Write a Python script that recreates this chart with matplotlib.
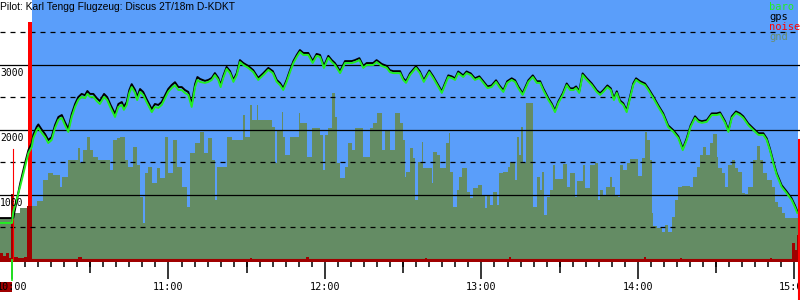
import matplotlib.pyplot as plt

# time in minutes after 10:00, heights in metres
baro_t = [-4.6, 0.0, 0.5, 3.1, 5.0, 6.3, 7.6, 8.2, 9.5, 10.1, 11.4, 12.7, 13.9, 15.2, 16.5, 17.8, 19.1, 20.3,
          21.6, 22.9, 24.2, 25.4, 26.7, 28.0, 28.9, 29.9, 31.2, 32.5, 33.7, 35.3, 36.5, 37.8, 39.5, 40.8,
          42.1, 42.9, 44.0, 45.0, 45.9, 47.2, 48.0, 49.1, 50.3, 51.6, 53.6, 54.8, 56.1, 57.4, 58.7, 59.9,
          61.2, 62.5, 63.8, 65.1, 66.3, 67.6, 68.9, 70.2, 71.1, 72.1, 74.0, 75.3, 76.6, 77.8, 79.1, 80.0,
          81.0, 82.3, 83.6, 84.9, 86.2, 87.4, 88.7, 90.6, 92.5, 94.4, 96.4, 98.3, 100.0, 101.5, 102.8,
          104.0, 105.3, 106.6, 107.9, 109.2, 110.4, 111.7, 113.6, 115.3, 116.8, 118.1, 119.6, 121.3,
          122.6, 123.8, 125.8, 127.7, 129.0, 130.3, 131.5, 133.2, 134.7, 136.0, 137.3, 138.5, 139.8,
          141.8, 143.7, 144.9, 146.2, 148.8, 150.0, 151.1, 152.6, 154.9, 156.4, 157.9, 160.0, 161.5,
          163.1, 164.8, 166.0, 167.3, 168.6, 169.9, 171.1, 173.0, 174.3, 175.9, 177.5, 179.2, 180.7,
          182.3, 183.9, 185.6, 186.9, 188.4, 189.9, 191.6, 192.9, 194.1, 195.8, 198.0, 199.7, 201.2,
          202.5, 203.7, 205.7, 206.9, 208.2, 209.5, 211.2, 212.7, 214.0, 215.3, 216.3, 217.5, 218.8,
          220.4, 222.3, 224.2, 225.5, 226.7, 228.3, 229.6, 230.8, 231.9, 233.1, 234.4, 235.7, 237.0,
          238.2, 239.3, 240.8, 242.7, 244.0, 245.9, 247.8, 249.7, 251.6, 253.6, 255.5, 257.2, 258.7,
          260.2, 261.9, 263.2, 264.5, 266.4, 268.3, 270.2, 271.5, 273.4, 274.7, 276.0, 277.6, 279.1,
          280.4, 282.3, 284.2, 286.2, 288.1, 289.4, 290.6, 291.9, 293.2, 295.1, 297.0, 298.9, 300.2, 301.1]

baro_m = [570, 570, 740, 1125, 1430, 1645, 1740, 1875, 2000, 2030, 1955, 1890, 1800, 1845, 2030, 2155, 2185, 2075,
          1970, 2200, 2355, 2460, 2510, 2490, 2555, 2510, 2510, 2445, 2400, 2510, 2460, 2340, 2200, 2355,
          2385, 2310, 2385, 2570, 2660, 2570, 2460, 2585, 2540, 2430, 2275, 2355, 2340, 2385, 2490, 2585,
          2645, 2690, 2615, 2615, 2570, 2540, 2355, 2660, 2770, 2740, 2725, 2740, 2770, 2845, 2770, 2660,
          2800, 2940, 2875, 2740, 2845, 3045, 3000, 2955, 2890, 2770, 2845, 2925, 2875, 2740, 2690,
          2615, 2740, 2890, 3030, 3125, 3200, 3155, 3155, 3030, 3140, 3125, 2955, 3110,
          3045, 3000, 2875, 3030, 3030, 3030, 3045, 3075, 2955, 3000, 3000, 3000, 3045,
          2985, 2955, 2890, 2875, 2875, 2770, 2725, 2845, 2955, 2875, 2740, 2890, 2800,
          2690, 2570, 2690, 2815, 2800, 2770, 2875, 2815, 2875, 2845, 2770, 2800, 2725,
          2645, 2660, 2740, 2660, 2585, 2725, 2770, 2740, 2645, 2540, 2740, 2815, 2725,
          2725, 2615, 2460, 2385, 2275, 2415, 2540, 2690, 2615, 2615, 2645, 2570, 2845,
          2770, 2690, 2585, 2540, 2585, 2660, 2615, 2460, 2570, 2430, 2385, 2275, 2490,
          2690, 2770, 2725, 2690, 2615, 2490, 2355, 2230, 2045, 1970, 1875, 1690, 1845,
          2045, 2185, 2125, 2110, 2125, 2230, 2230, 2245, 2110, 1970, 2185, 2260, 2230,
          2185, 2075, 2000, 1925, 1925, 1845, 1690, 1490, 1310, 1125, 1030, 925, 815, 725]

gps_m = [645, 645, 650, 1170, 1490, 1690, 1800, 1930, 2050, 2085, 2005, 1935, 1845, 1890, 2075, 2200, 2230, 2120,
         2015, 2245, 2400, 2505, 2555, 2535, 2600, 2555, 2555, 2490, 2445, 2555, 2505, 2385, 2245, 2400,
         2430, 2355, 2430, 2615, 2705, 2615, 2505, 2630, 2585, 2475, 2320, 2400, 2385, 2430, 2535, 2630,
         2690, 2735, 2660, 2660, 2615, 2585, 2400, 2705, 2815, 2785, 2755, 2770, 2800, 2875, 2800, 2690,
         2830, 2970, 2905, 2770, 2875, 3075, 3030, 2985, 2920, 2800, 2875, 2955, 2905, 2770, 2720,
         2645, 2770, 2920, 3060, 3155, 3230, 3185, 3185, 3060, 3170, 3155, 2985, 3140,
         3075, 3030, 2905, 3060, 3060, 3060, 3075, 3105, 2985, 3030, 3030, 3030, 3075,
         3015, 2985, 2920, 2905, 2905, 2795, 2750, 2870, 2980, 2900, 2765, 2915, 2825,
         2715, 2595, 2715, 2840, 2825, 2795, 2900, 2840, 2900, 2870, 2795, 2825, 2750,
         2670, 2685, 2765, 2685, 2610, 2750, 2795, 2765, 2670, 2565, 2765, 2840, 2750,
         2750, 2640, 2485, 2410, 2300, 2440, 2565, 2715, 2640, 2640, 2670, 2595, 2870,
         2795, 2715, 2610, 2565, 2610, 2685, 2640, 2485, 2595, 2455, 2410, 2300, 2515,
         2715, 2795, 2750, 2715, 2640, 2515, 2380, 2255, 2070, 1995, 1900, 1715, 1870,
         2070, 2210, 2150, 2135, 2150, 2255, 2255, 2270, 2135, 1995, 2210, 2285, 2255,
         2210, 2100, 2025, 1950, 1950, 1870, 1715, 1515, 1335, 1150, 1055, 950, 840, 750]

gnd_t = [-4.6, 0.0, 3.1, 6.1, 9.6, 11.9, 13.8, 15.7, 18.4, 19.2, 21.5, 25.3, 26.1, 27.2, 28.8, 29.9, 31.1,
         33.0, 37.6, 38.7, 40.3, 41.4, 43.3, 44.5, 46.4, 47.9, 49.1, 50.2, 51.0, 52.2, 53.7, 55.6, 56.8,
         58.7, 59.8, 61.7, 63.3, 65.2, 67.1, 68.3, 70.2, 72.1, 73.6, 75.2, 76.7, 77.8, 78.6, 82.4, 84.4,
         88.6, 89.3, 91.3, 92.0, 93.9, 94.3, 99.7, 100.8, 101.6, 103.5, 103.9, 104.7, 106.6, 110.1, 110.4,
         113.1, 115.0, 118.1, 119.3, 120.0, 121.2, 122.7, 123.9, 124.6, 125.8, 127.7, 128.8, 130.4, 131.5,
         134.6, 137.3, 138.4, 140.0, 141.9, 143.0, 144.9, 146.9, 148.8, 149.9, 150.7, 151.1, 152.6, 153.8,
         154.5, 155.7, 157.2, 157.6, 161.0, 161.4, 163.0, 164.1, 166.4, 167.6, 167.9, 169.1, 170.6, 171.4,
         172.6, 174.5, 175.6, 176.8, 178.7, 180.2, 181.4, 182.1, 183.3, 184.4, 186.0, 186.7, 188.3, 190.2,
         191.0, 192.9, 193.6, 194.4, 195.2, 195.9, 197.1, 199.8, 201.3, 202.5, 203.2, 204.0, 205.1, 206.3,
         207.4, 208.2, 211.3, 212.8, 214.0, 215.9, 216.6, 218.9, 219.7, 221.6, 223.5, 224.7, 225.5, 226.6,
         227.8, 229.3, 230.1, 231.2, 232.4, 233.1, 234.3, 235.8, 237.0, 240.0, 241.6, 242.7, 243.5, 244.6,
         245.4, 245.8, 247.3, 249.2, 250.4, 251.5, 253.1, 254.2, 255.4, 256.9, 260.0, 261.1, 262.7, 263.8,
         265.0, 266.1, 267.6, 268.8, 270.3, 270.7, 272.2, 273.4, 274.5, 276.1, 277.2, 278.4, 279.9, 281.1,
         282.2, 284.1, 285.7, 286.8, 288.0, 289.5, 291.4, 292.6, 293.7, 295.3, 296.4, 302.2]

gnd_m = [630, 725, 800, 830, 910, 1230, 1340, 1310, 1125, 1275, 1540, 1725, 1490, 1690, 1890, 1690, 1585,
         1540, 1385, 1845, 1875, 1890, 1540, 1430, 1740, 1460, 970, 570, 1340, 1430, 1185, 1415, 1260,
         1890, 1340, 1845, 1430, 1125, 815, 1645, 1800, 1970, 1645, 1875, 1540, 925, 1430, 1890, 1845,
         2230, 1890, 2385, 2155, 2385, 2155, 2045, 1490, 2000, 2275, 1890, 1615, 1890, 2260, 2110,
         1585, 2030, 1925, 1385, 1925, 2030, 2570, 2200, 1490, 1260, 1430, 1800, 1690, 2030,
         1585, 2030, 2110, 2260, 1690, 2000, 1690, 2260, 2110, 1845, 1275, 1355, 1725, 1570,
         925, 1510, 1815, 1415, 1185, 1660, 1615, 1415, 1800, 1955, 1355, 815, 1075, 1275,
         1415, 1045, 955, 1110, 1155, 1000, 800, 1000, 845, 1045, 845, 1340, 1355, 1430,
         1510, 1230, 1890, 1615, 2045, 1490, 2415, 815, 1275, 1075, 1355, 690, 970, 1075,
         1460, 1245, 1475, 1125, 1340, 970, 1215, 1460, 1110, 1460, 1490, 925, 1075, 1000,
         1125, 1275, 1125, 1000, 970, 1460, 1385, 1490, 1555, 1290, 1570, 1970, 1845, 1540,
         725, 525, 490, 430, 540, 430, 660, 925, 1125, 1140, 1125, 1275, 1430, 1615,
         1740, 1615, 1800, 1940, 1585, 1415, 1340, 1125, 1460, 1540, 1415, 1355, 1030, 1015,
         1125, 1540, 1755, 1540, 1340, 1230, 1125, 890, 815, 725, 645, 645]

noise_t = [-4.6, -3.5, -2.3, -1.2, -0.4, 0.6, 2.3, 4.6, 5.9, 7.7, 25.3, 26.8, 91.3, 92.0, 112.7, 113.9,
           158.4, 159.1, 190.6, 191.4, 242.3, 243.1, 256.1, 256.9, 290.6, 291.4, 299.1, 300.2, 301.0, 302.2]
noise_v = [110, 60, 110, 30, 1015, 45, 30, 45, 830, 0, 45, 0, 30, 0, 45, 0,
           30, 0, 45, 0, 45, 0, 30, 0, 30, 0, 260, 155, 385, 385]

takeoff = 0.0
takeoff_noise = (0.5, 1710)
release = (6.1, 7.7, 3660)
task = (7.7, 301.3)
landing = (301.8, 1845)

hour_min = [0, 60, 120, 180, 240, 300]
hour_labels = ["10:00", "11:00", "12:00", "13:00", "14:00", "15:00"]
half_min = [30, 90, 150, 210, 270]
five_min = list(range(0, 305, 5))

title = "Pilot: Karl Tengg Flugzeug: Discus 2T/18m D-KDKT"
series = [("baro", "#22ee22"), ("gps", "black"), ("noise", "red"), ("gnd", "#6b8e6b")]

blue = "#5a9efa"
gndc = "#648c64"
dred = "#a00000"
mono = "DejaVu Sans Mono"

fig = plt.figure(figsize=(8, 3), dpi=100)
ax = fig.add_axes([0, 38 / 300, 1, 262 / 300])
ax.set_xlim(-4.6, 302.15)
ax.set_ylim(-31, 4000)
y0 = ax.get_ylim()[0]

ax.axvspan(*task, color=blue, lw=0, zorder=0)
ax.fill_between(gnd_t, gnd_m, y0, step="post", color=gndc, lw=0, zorder=1)
ax.fill_between(noise_t, noise_v, y0, step="post", color=dred, lw=0, zorder=2)
ax.axhline(0, color=dred, lw=1.5, zorder=2)

for h in [1000, 2000, 3000]:
    ax.axhline(h, color="black", lw=0.9, zorder=3)
for h in [500, 1500, 2500, 3500]:
    ax.axhline(h, color="black", lw=0.9, ls=(0, (4, 4)), zorder=3)

ax.fill_betweenx([noise_v[8], release[2]], release[0], release[1], color="red", lw=0, zorder=4)
ax.plot([takeoff_noise[0]] * 2, [0, takeoff_noise[1]], color="red", lw=0.8, zorder=4)
ax.plot([landing[0]] * 2, [-615, landing[1]], color="red", lw=1.5, zorder=8, clip_on=False)
ax.plot([takeoff] * 2, [0, -310], color="#22ee22", lw=1.3, zorder=8, clip_on=False)
ax.fill_between([-4.6, takeoff], -340, -490, color=dred, lw=0, zorder=1, clip_on=False)

ax.plot(baro_t, gps_m, color="black", lw=1.4, zorder=5)
ax.plot(baro_t, baro_m, color="#22ee22", lw=1.4, zorder=6)

for h in [1000, 2000, 3000]:
    ax.annotate(str(h), xy=(0, h), xycoords=("axes fraction", "data"), xytext=(0, -2),
                textcoords="offset points", va="top", ha="left", fontsize=7, family=mono, zorder=7)

for s in ax.spines.values():
    s.set_visible(False)
ax.set_yticks([])
ax.set_xticks(hour_min, hour_labels, family=mono, fontsize=7.3)
ax.set_xticks(five_min, minor=True)
ax.tick_params(which="major", length=12.2, width=1.1, pad=2)
ax.tick_params(which="minor", length=3.6, width=1.1)
sec = ax.secondary_xaxis("bottom")
sec.set_xticks(half_min)
sec.tick_params(length=7.9, width=1.1, labelbottom=False)
sec.spines["bottom"].set_visible(False)

fig.text(0.0, 1 - 10 / 300, title, family="Liberation Sans", fontsize=7.4, va="baseline")
for i, (name, c) in enumerate(series):
    fig.text(769 / 800, 1 - (10 + 10 * i) / 300, name, color=c, family=mono, fontsize=7.5,
             va="baseline", ha="left")

fig.savefig("out.png", dpi=100)
